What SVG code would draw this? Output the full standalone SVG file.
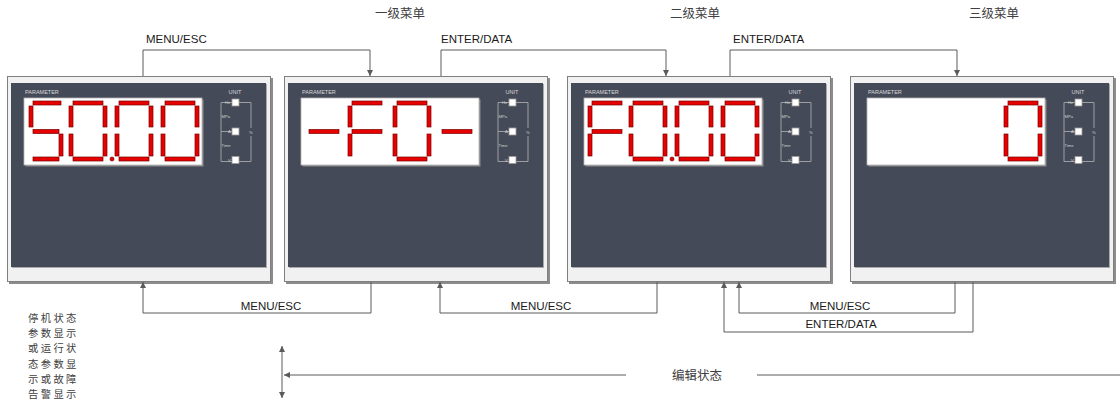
<svg xmlns="http://www.w3.org/2000/svg" xmlns:xlink="http://www.w3.org/1999/xlink" width="1120" height="401" viewBox="0 0 1120 401">
<style>
.seg{fill:#e60000;stroke:#7a0000;stroke-width:0.7}
.conn{fill:none;stroke:#5a5a5a;stroke-width:1}
.lbl{font-family:"Liberation Sans",Arial,sans-serif;font-size:11.5px;fill:#1a1a1a}
.cjk{font-family:"Noto Sans CJK SC",sans-serif;font-size:12.5px;fill:#404040}
.side{font-family:"Noto Sans CJK SC",sans-serif;font-size:10.3px;letter-spacing:2.4px;fill:#404040}
.tiny{font-family:"Liberation Sans",Arial,sans-serif;font-size:5.5px;fill:#d8d8d8}
.unit{font-family:"Liberation Sans",Arial,sans-serif;font-size:4.2px;fill:#cfcfcf}
.brk{fill:none;stroke:#a8a8a8;stroke-width:0.9}
.sq{fill:#ffffff;stroke:#9a9a9a;stroke-width:0.8}
</style>
<defs>
<marker id="arr" markerWidth="6" markerHeight="6" refX="6" refY="3" orient="auto-start-reverse" markerUnits="userSpaceOnUse">
<path d="M0,0 L6,3 L0,6 z" fill="#5a5a5a"/>
</marker>
<rect id="sh" class="seg" width="30" height="4"/>
<rect id="sv" class="seg" width="4" height="21"/>
<rect id="sv2" class="seg" width="4" height="22"/>
<g id="d0">
<use href="#sh" x="4" y="0"/>
<use href="#sv" x="34" y="5"/>
<use href="#sv2" x="34" y="33"/>
<use href="#sh" x="4" y="56"/>
<use href="#sv2" x="0" y="33"/>
<use href="#sv" x="0" y="5"/>
</g>
<g id="dF">
<use href="#sh" x="4" y="0"/>
<use href="#sv" x="0" y="5"/>
<use href="#sv2" x="0" y="33"/>
<use href="#sh" x="4" y="28.5"/>
</g>
<g id="dDash">
<use href="#sh" x="4" y="28.5"/>
</g>
<g id="panelBase">
<rect x="2" y="78" width="264" height="206" fill="#8c8c8c"/>
<rect x="0.5" y="76.5" width="263" height="205" fill="#f1f1f1" stroke="#7f7f7f" stroke-width="1"/>
<rect x="5" y="84" width="255" height="184" fill="#a9a9a9"/>
<rect x="4" y="83" width="255" height="184" fill="#454a59"/>
<rect x="18.5" y="99.5" width="178" height="67" fill="#8a8a8a"/>
<rect x="17" y="98" width="178" height="67" fill="#ffffff" stroke="#b5b5b5" stroke-width="0.8"/>
<text class="tiny" x="18" y="94">PARAMETER</text>
<text class="tiny" x="228" y="94" text-anchor="middle">UNIT</text>
<path class="brk" d="M225,102.5 H214 V161.5 H225 M214,131.5 H225 M232,102.5 H244 V128 M244,136 V161.5 H232"/>
<rect class="sq" x="225" y="99" width="7" height="7"/>
<rect class="sq" x="225" y="128" width="7" height="7"/>
<rect class="sq" x="225" y="156.5" width="7" height="7"/>
<text class="unit" x="218" y="104">Hz</text>
<text class="unit" x="214.5" y="118">MPa</text>
<text class="unit" x="221" y="133">A</text>
<text class="unit" x="214.5" y="147">Time</text>
<text class="unit" x="221" y="162">V</text>
<text class="unit" x="242" y="133.5">%</text>
</g>
</defs>

<g id="panel1">
<use href="#panelBase" x="7" y="0"/>
<rect class="seg" x="33" y="101" width="28" height="4"/>
<rect class="seg" x="29" y="106" width="4" height="21"/>
<rect class="seg" x="33" y="129.5" width="26" height="4"/>
<rect class="seg" x="59" y="134" width="4" height="22"/>
<rect class="seg" x="33" y="157" width="26" height="4"/>
<use href="#d0" x="69" y="101"/>
<use href="#d0" x="115" y="101"/>
<use href="#d0" x="161" y="101"/>
<circle class="seg" cx="112" cy="159" r="2"/>
</g>

<g id="panel2">
<use href="#panelBase" x="284" y="0"/>
<use href="#dDash" x="305" y="101"/>
<use href="#dF" x="348" y="101"/>
<use href="#d0" x="393" y="101"/>
<use href="#dDash" x="438" y="101"/>
</g>

<g id="panel3">
<use href="#panelBase" x="567" y="0"/>
<use href="#dF" x="588" y="101"/>
<use href="#d0" x="629" y="101"/>
<use href="#d0" x="675" y="101"/>
<use href="#d0" x="721" y="101"/>
<circle class="seg" cx="672" cy="159" r="2"/>
</g>

<g id="panel4">
<use href="#panelBase" x="850" y="0"/>
<use href="#d0" x="1004" y="101"/>
</g>

<g id="connectors">
<path class="conn" d="M143,76 V50 H370 V76" marker-end="url(#arr)"/>
<path class="conn" d="M441,76 V50 H666 V76" marker-end="url(#arr)"/>
<path class="conn" d="M730,76 V50 H957 V76" marker-end="url(#arr)"/>
<path class="conn" d="M371,282 V313 H143 V282" marker-end="url(#arr)"/>
<path class="conn" d="M657,282 V313 H440 V282" marker-end="url(#arr)"/>
<path class="conn" d="M955,282 V313 H739 V282" marker-end="url(#arr)"/>
<path class="conn" d="M973,282 V332 H724 V282" marker-end="url(#arr)"/>
<path class="conn" d="M626,375 H284" marker-end="url(#arr)"/>
<path class="conn" d="M757,375 H1120"/>
<path class="conn" d="M282,346 V398" marker-start="url(#arr)" marker-end="url(#arr)"/>
</g>

<g id="labels">
<text class="lbl" x="146" y="43">MENU/ESC</text>
<text class="lbl" x="441" y="43">ENTER/DATA</text>
<text class="lbl" x="733" y="43">ENTER/DATA</text>
<text class="lbl" x="271" y="310" text-anchor="middle">MENU/ESC</text>
<text class="lbl" x="541" y="310" text-anchor="middle">MENU/ESC</text>
<text class="lbl" x="840" y="310" text-anchor="middle">MENU/ESC</text>
<text class="lbl" x="841" y="327.5" text-anchor="middle">ENTER/DATA</text>
<text class="cjk" x="375" y="17.5">一级菜单</text>
<text class="cjk" x="670" y="17.5">二级菜单</text>
<text class="cjk" x="969" y="17.5">三级菜单</text>
<text class="cjk" x="672" y="379.5">编辑状态</text>
<text class="side" x="28" y="322"><tspan x="28">停机状态</tspan><tspan x="28" dy="15.2">参数显示</tspan><tspan x="28" dy="15.2">或运行状</tspan><tspan x="28" dy="15.2">态参数显</tspan><tspan x="28" dy="15.2">示或故障</tspan><tspan x="28" dy="15.2">告警显示</tspan></text>
</g>
</svg>
